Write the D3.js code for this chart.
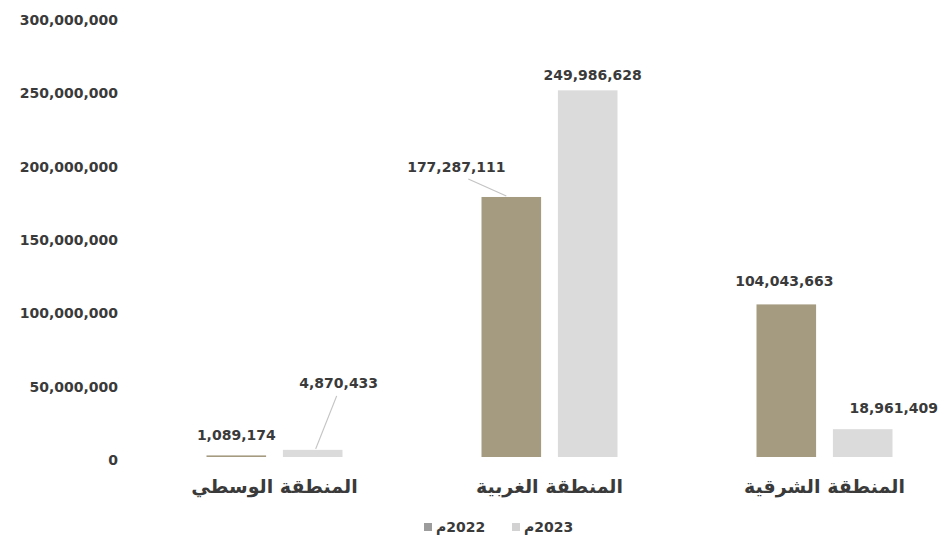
<!DOCTYPE html>
<html lang="ar">
<head>
<meta charset="utf-8">
<script src="https://cdn.jsdelivr.net/npm/d3@7"></script>
<style>
  html, body { margin: 0; padding: 0; background: #fff; }
  svg { display: block; }
  .num { font-family: "DejaVu Sans", sans-serif; font-weight: bold; font-size: 14px; fill: #3a3a3a; }
  .cat { font-family: "DejaVu Sans", sans-serif; font-weight: bold; font-size: 19px; fill: #3a3a3a; }
</style>
</head>
<body>
<svg id="chart" width="946" height="543"></svg>
<script>
// Regions, left to right
const regions = ["المنطقة الوسطي", "المنطقة الغربية", "المنطقة الشرقية"];
const years = ["2022", "2023"];
const values2022 = [1089174, 177287111, 104043663];
const values2023 = [4870433, 249986628, 18961409];
const yTicks = [0, 50000000, 100000000, 150000000, 200000000, 250000000, 300000000];

const colors = { "2022": "#a49b80", "2023": "#dbdbdb" };
const swatch = { "2022": "#9c9c9c", "2023": "#d2d2d2" };

const svg = d3.select("#chart");
const fmt = d3.format(",");

const x0 = d3.scaleBand().domain(regions).range([137, 962]).paddingInner(0).paddingOuter(0);
const groupW = 136;
const x1 = d3.scaleBand().domain(years).range([0, groupW]).paddingInner(0.22);
const y = d3.scaleLinear().domain([0, 300000000]).range([457, 17]);

// value axis: labels only, no line or grid
const yAxis = d3.axisLeft(y).tickValues(yTicks).tickFormat(fmt).tickSize(0).tickPadding(0);
const gy = svg.append("g").attr("transform", "translate(118,3)").call(yAxis);
gy.select(".domain").remove();
gy.selectAll("text").attr("class", "num").attr("font-family", null).attr("font-size", null);

const rows = regions.map((r, i) => ({ region: r, "2022": values2022[i], "2023": values2023[i] }));

const groups = svg.append("g").selectAll("g").data(rows).join("g")
  .attr("transform", d => `translate(${x0(d.region) + (x0.bandwidth() - groupW) / 2},0)`);

groups.selectAll("rect").data(d => years.map(k => ({ key: k, value: d[k] })))
  .join("rect")
  .attr("x", d => x1(d.key))
  .attr("width", x1.bandwidth())
  .attr("y", d => y(d.value))
  .attr("height", d => y(0) - y(d.value))
  .attr("fill", d => colors[d.key]);

// value labels, with offsets from the bar's top-centre
const labelOffsets = {
  "0-2022": { dx: 0, dy: -20 },
  "0-2023": { dx: 26, dy: -67, leader: true },
  "1-2022": { dx: -55, dy: -30, leader: true },
  "1-2023": { dx: 5, dy: -15 },
  "2-2022": { dx: -2, dy: -23 },
  "2-2023": { dx: 31, dy: -21 }
};

const labelLayer = svg.append("g");
rows.forEach((row, i) => {
  years.forEach(k => {
    const gx = x0(row.region) + (x0.bandwidth() - groupW) / 2;
    const cx = gx + x1(k) + x1.bandwidth() / 2;
    const top = y(row[k]);
    const o = labelOffsets[`${i}-${k}`];
    const lx = cx + o.dx, ly = top + o.dy;
    if (o.leader) {
      const steep = o.dy < -40;
      labelLayer.append("line")
        .attr("x1", steep ? lx - 2 : lx + 12).attr("y1", steep ? ly + 13 : ly + 12)
        .attr("x2", steep ? cx + 3 : cx - 5).attr("y2", top - 1)
        .attr("stroke", "#c4c4c4").attr("stroke-width", 1.2);
    }
    labelLayer.append("text").attr("class", "num")
      .attr("x", lx).attr("y", ly + 5)
      .attr("text-anchor", "middle")
      .text(fmt(row[k]));
  });
});

// category labels
svg.append("g").selectAll("text").data(regions).join("text")
  .attr("class", "cat")
  .attr("x", d => x0(d) + x0.bandwidth() / 2)
  .attr("y", 493)
  .attr("text-anchor", "middle")
  .text(d => d);

// legend (RLM keeps the year number to the right of the Arabic mark)
const legendX = [424, 512];
const legend = svg.append("g").selectAll("g").data(years).join("g")
  .attr("transform", (d, i) => `translate(${legendX[i]},527)`);
legend.append("rect").attr("x", 0).attr("y", -4).attr("width", 8).attr("height", 8)
  .attr("fill", d => swatch[d]);
legend.append("text").attr("class", "num")
  .attr("x", 12).attr("y", 5)
  .attr("text-anchor", "start")
  .text(d => "\u200F" + d + "م");
</script>
</body>
</html>
